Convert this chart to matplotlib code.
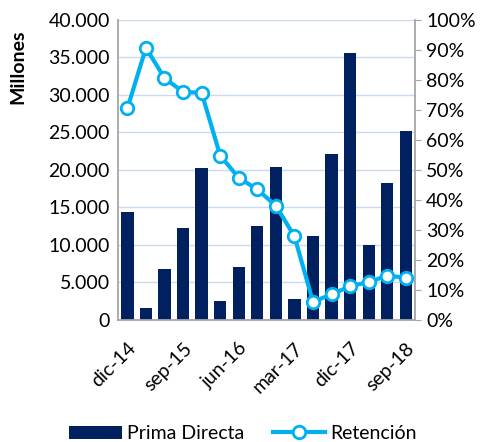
import numpy as np
import matplotlib.pyplot as plt
from matplotlib.ticker import FuncFormatter, MultipleLocator

plt.rcParams['font.family'] = ['Lato', 'DejaVu Sans']

# trimestres dic-14 .. sep-18
periodos = ['dic-14', 'mar-15', 'jun-15', 'sep-15', 'dic-15', 'mar-16', 'jun-16', 'sep-16',
            'dic-16', 'mar-17', 'jun-17', 'sep-17', 'dic-17', 'mar-18', 'jun-18', 'sep-18']
prima_directa = [14370, 1650, 6830, 12270, 20200, 2550, 7050, 12540,
                 20440, 2760, 11250, 22140, 35540, 10000, 18220, 25220]
retencion = [70.5, 90.7, 80.6, 76.0, 75.7, 54.8, 47.4, 43.5,
             38.1, 27.9, 6.1, 8.5, 11.3, 12.6, 14.8, 14.1]

azul = '#002060'
celeste = '#00B0F0'
gris = '#A6A6A6'
fs = 14

fig = plt.figure(figsize=(4.86, 4.42), dpi=100)
ax = fig.add_axes([0.243, 0.276, 0.611, 0.679])
x = np.arange(len(periodos))

ax.bar(x, prima_directa, width=0.66, color=azul, zorder=2, label='Prima Directa')
ax.set_ylim(0, 40000)
ax.set_xlim(-0.5, len(periodos) - 0.5)
ax.yaxis.set_major_locator(MultipleLocator(5000))
ax.yaxis.set_major_formatter(FuncFormatter(lambda v, p: '0' if v == 0 else f'{v:,.0f}'.replace(',', '.')))
ax.grid(axis='y', color='#C9D9F0', lw=1, zorder=0)
ax.set_axisbelow(True)
ax.set_xticks(x[::3])
ax.set_xticklabels(periodos[::3], rotation=45, ha='right', rotation_mode='anchor')
ax.tick_params(axis='x', length=0, labelsize=fs, pad=14)
ax.tick_params(axis='y', length=0, labelsize=fs, pad=6)
for s in ['top', 'right']:
    ax.spines[s].set_visible(False)
for s in ['left', 'bottom']:
    ax.spines[s].set_color(gris)
    ax.spines[s].set_linewidth(1.3)

fig.text(18 / 486, 1 - 67 / 442, 'Millones', rotation=90, ha='center', va='center',
         fontsize=fs, fontweight='bold')

ax2 = ax.twinx()
ax2.plot(x, retencion, color=celeste, lw=3, marker='o', ms=9, mfc='white',
         mec=celeste, mew=2, zorder=3, label='Retención')
ax2.set_ylim(0, 100)
ax2.yaxis.set_major_locator(MultipleLocator(10))
ax2.yaxis.set_major_formatter(FuncFormatter(lambda v, p: f'{v:.0f}%'))
ax2.tick_params(axis='y', length=4, color=gris, labelsize=fs, pad=4)
for s in ['top', 'left', 'bottom']:
    ax2.spines[s].set_visible(False)
ax2.spines['right'].set_color(gris)
ax2.spines['right'].set_linewidth(1.3)

h1, l1 = ax.get_legend_handles_labels()
h2, l2 = ax2.get_legend_handles_labels()
fig.legend(h1 + h2, l1 + l2, loc='lower center', bbox_to_anchor=(0.5, -0.04), ncol=2,
           frameon=False, fontsize=fs, handlelength=2.7, columnspacing=1.5, handletextpad=0.25)

fig.savefig('out.png', dpi=100)
